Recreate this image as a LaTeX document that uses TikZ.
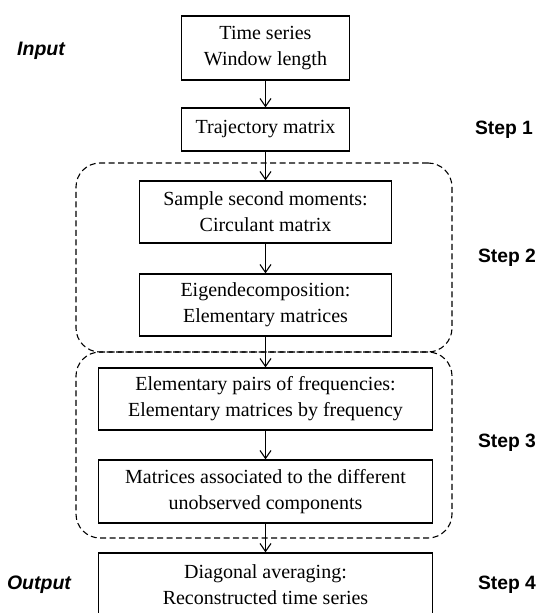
\documentclass[tikz,border=0pt]{standalone}
\usepackage{fontspec}
\setmainfont{Liberation Serif}
\newfontfamily\labfont{Liberation Sans}
\usetikzlibrary{arrows.meta}
\tikzset{
  box/.style={draw, line width=1.2pt, inner sep=0pt, align=center,
    font=\fontsize{20}{26}\selectfont},
  grp/.style={draw, line width=1.1pt, dash pattern=on 6pt off 3.5pt,
    rounded corners=24pt, inner sep=0pt},
  arr/.style={line width=1.1pt, -{Straight Barb[length=8pt,width=11pt,line width=1.1pt]}},
  steplab/.style={font=\labfont\bfseries\fontsize{19.3}{23}\selectfont, inner sep=0pt},
  iolab/.style={font=\labfont\bfseries\itshape\fontsize{19.5}{23}\selectfont, inner sep=0pt}
}
\begin{document}
\begin{tikzpicture}[x=1pt,y=-1pt]
\useasboundingbox (0,0) rectangle (543,613);
\clip (0,0) rectangle (543,613);
\fill[white] (0,0) rectangle (543,613);
% groups
\node[grp, minimum width=376pt, minimum height=189pt] (g1) at (264,257.5) {};
\node[grp, minimum width=376pt, minimum height=186pt] (g2) at (264,445) {};
% boxes
\node[box, minimum width=168pt, minimum height=64pt] (b1) at (265.5,48) {Time series\\Window length};
\node[box, minimum width=168pt, minimum height=43pt] (b2) at (265.5,129.5) {Trajectory matrix};
\node[box, minimum width=252pt, minimum height=62pt] (b3) at (265.5,212) {Sample second moments:\\Circulant matrix};
\node[box, minimum width=252pt, minimum height=62pt] (b4) at (265.5,305) {Eigendecomposition:\\Elementary matrices};
\node[box, minimum width=334pt, minimum height=62pt] (b5) at (265.5,399) {Elementary pairs of frequencies:\\Elementary matrices by frequency};
\node[box, minimum width=334pt, minimum height=63pt] (b6) at (265.5,491.5) {Matrices associated to the different\\unobserved components};
\node[box, minimum width=334pt, minimum height=63pt] (b7) at (265.5,584.5) {Diagonal averaging:\\Reconstructed time series};
% arrows
\draw[arr] (b1.south) -- (b2.north);
\draw[arr] (b2.south) -- (b3.north);
\draw[arr] (b3.south) -- (b4.north);
\draw[arr] (b4.south) -- (b5.north);
\draw[arr] (b5.south) -- (b6.north);
\draw[arr] (b6.south) -- (b7.north);
% labels
\node[iolab] (lin) at (41,51) {Input};
\node[iolab] (lout) at (39,585) {Output};
\node[steplab] (s1) at (504,130) {Step 1};
\node[steplab] (s2) at (507,258) {Step 2};
\node[steplab] (s3) at (507,443) {Step 3};
\node[steplab] (s4) at (507,585) {Step 4};
\end{tikzpicture}
\end{document}
